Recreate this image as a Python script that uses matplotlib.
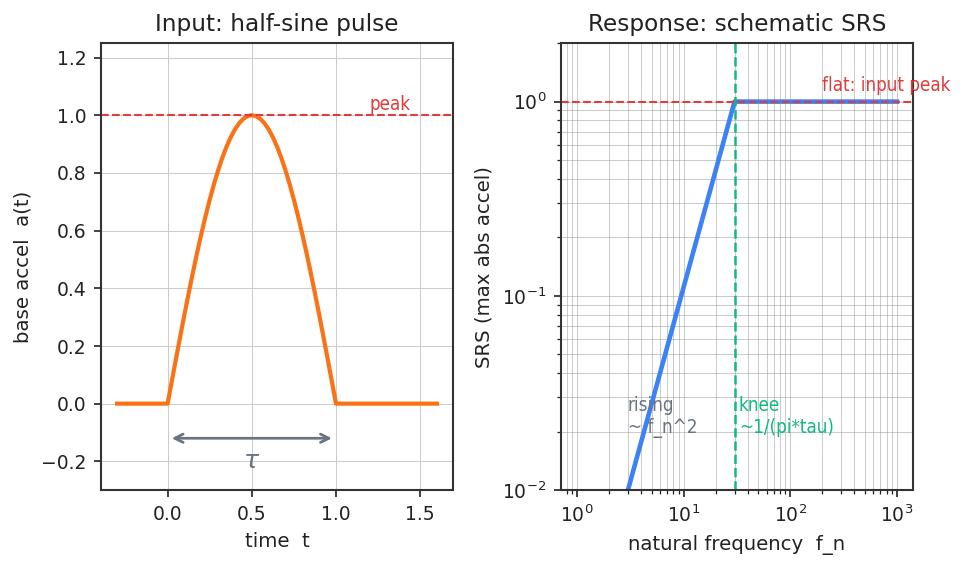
import numpy as np
import matplotlib
matplotlib.use('Agg')
import matplotlib.pyplot as plt

# half-sine input pulse, tau = 1
t = [-0.3, 0.0, 0.025, 0.05, 0.075, 0.1, 0.125, 0.15, 0.175, 0.2, 0.225, 0.25,
     0.275, 0.3, 0.325, 0.35, 0.375, 0.4, 0.425, 0.45, 0.475, 0.5,
     0.525, 0.55, 0.575, 0.6, 0.625, 0.65, 0.675, 0.7, 0.725, 0.75,
     0.775, 0.8, 0.825, 0.85, 0.875, 0.9, 0.925, 0.95, 0.975, 1.0, 1.6]
accel = [0.0, 0.0, 0.0785, 0.1564, 0.2334, 0.3090, 0.3827, 0.4540, 0.5225, 0.5878, 0.6494, 0.7071,
         0.7604, 0.8090, 0.8526, 0.8910, 0.9239, 0.9511, 0.9724, 0.9877, 0.9969, 1.0,
         0.9969, 0.9877, 0.9724, 0.9511, 0.9239, 0.8910, 0.8526, 0.8090, 0.7604, 0.7071,
         0.6494, 0.5878, 0.5225, 0.4540, 0.3827, 0.3090, 0.2334, 0.1564, 0.0785, 0.0, 0.0]
peak = 1.0

# schematic SRS: rises ~f^2 up to the knee, then flat at the input peak
fn = [1.0, 30.0, 1000.0]
srs = [0.00111, 1.0, 1.0]
f_knee = 30.0

c_orange = '#f97316'
c_blue = '#3b82f6'
c_red = '#e03c3c'
c_green = '#10b981'
c_gray = '#6b7280'

plt.rcParams['axes.edgecolor'] = '#333333'
plt.rcParams['axes.linewidth'] = 1.0
plt.rcParams['axes.titlesize'] = 11.2
plt.rcParams['axes.labelsize'] = 9.5
plt.rcParams['xtick.labelsize'] = 9
plt.rcParams['ytick.labelsize'] = 9
plt.rcParams['text.color'] = '#222222'
plt.rcParams['axes.labelcolor'] = '#222222'
plt.rcParams['xtick.color'] = '#222222'
plt.rcParams['ytick.color'] = '#222222'

fig, (ax1, ax2) = plt.subplots(1, 2, figsize=(6.42, 3.787), dpi=150)
fig.subplots_adjust(left=0.105, right=0.948, top=0.924, bottom=0.137, wspace=0.307)

# left: input pulse
ax1.plot(t, accel, color=c_orange, lw=2)
ax1.axhline(peak, color=c_red, ls='--', lw=1)
ax1.text(1.2, 1.02, 'peak', color=c_red, fontsize=9, fontstretch='condensed')
ax1.annotate('', xy=(1.0, -0.12), xytext=(0.0, -0.12),
             arrowprops=dict(arrowstyle='<->', color=c_gray, lw=1.3))
ax1.text(0.5, -0.2, r'$\tau$', color=c_gray, fontsize=12, ha='center', va='center')
ax1.set_ylim(-0.3, 1.25)
ax1.set_xlabel('time  t')
ax1.set_ylabel('base accel  a(t)')
ax1.set_title('Input: half-sine pulse')
ax1.grid(True, color='#cccccc', lw=0.5)

# right: schematic SRS on log-log axes
ax2.loglog(fn, srs, color=c_blue, lw=2.2)
ax2.axhline(peak, color=c_red, ls='--', lw=1)
ax2.axvline(f_knee, color=c_green, ls='--', lw=1.2)
ax2.text(200, 1.14, 'flat: input peak', color=c_red, fontsize=9, fontstretch='condensed')
ax2.text(33, 0.0197, 'knee\n~1/(pi*tau)', color=c_green, fontsize=9, fontstretch='condensed')
ax2.text(3, 0.0197, 'rising\n~ f_n^2', color=c_gray, fontsize=9, fontstretch='condensed')
ax2.set_ylim(1e-2, 2)
ax2.set_xlabel('natural frequency  f_n')
ax2.set_ylabel('SRS (max abs accel)')
ax2.set_title('Response: schematic SRS')
ax2.grid(True, which='both', color='#999999', lw=0.4, alpha=0.6)

plt.savefig('out.png')
